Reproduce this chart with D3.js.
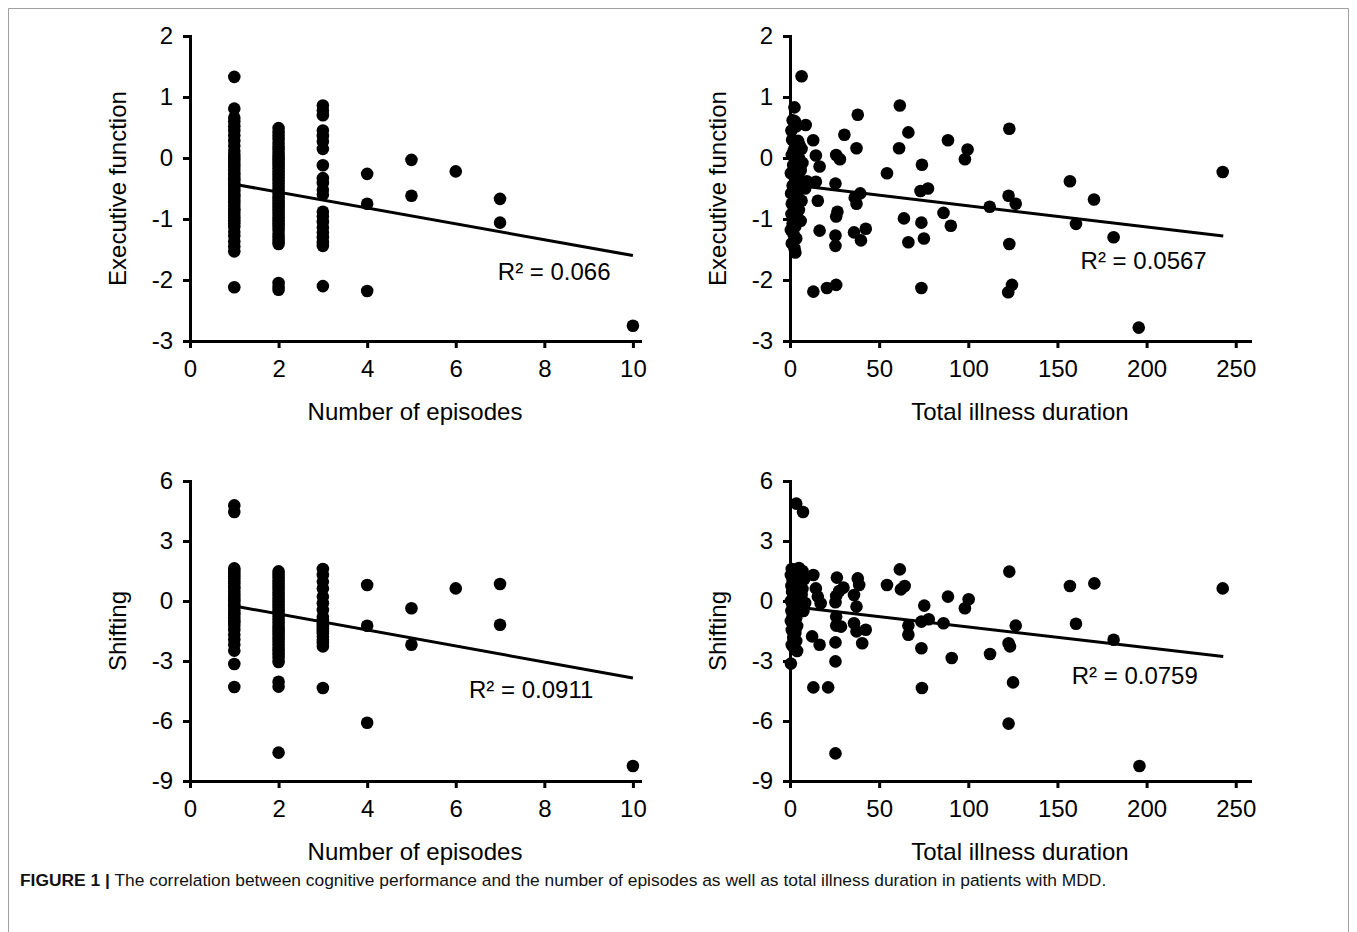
<!DOCTYPE html>
<html>
<head>
<meta charset="utf-8">
<script src="https://cdn.jsdelivr.net/npm/d3@7/dist/d3.min.js"></script>
<style>
  html, body { margin: 0; padding: 0; background: #fff; }
  svg { display: block; font-family: "Liberation Sans", Arial, sans-serif; }
</style>
</head>
<body>
<div id="figure"></div>
<script>
// tick values
const episodeTicks = [0, 2, 4, 6, 8, 10];
const durationTicks = [0, 50, 100, 150, 200, 250];
const execTicks = [-3, -2, -1, 0, 1, 2];
const shiftTicks = [-9, -6, -3, 0, 3, 6];

// executive function vs number of episodes  [episodes, score]
const execByEpisodes = [
  [1, 1.33], [1, 0.81], [1, 0.66], [1, 0.60], [1, 0.52], [1, 0.45], [1, 0.37], [1, 0.28],
  [1, 0.20], [1, 0.12], [1, 0.05], [1, 0.0], [1, -0.05], [1, -0.10], [1, -0.14], [1, -0.19],
  [1, -0.24], [1, -0.28], [1, -0.33], [1, -0.37], [1, -0.42], [1, -0.46], [1, -0.51], [1, -0.55],
  [1, -0.60], [1, -0.64], [1, -0.69], [1, -0.73], [1, -0.78], [1, -0.83], [1, -0.87], [1, -0.92],
  [1, -0.97], [1, -1.02], [1, -1.07], [1, -1.13], [1, -1.21], [1, -1.28], [1, -1.37], [1, -1.45],
  [1, -1.53], [1, -2.12],
  [2, 0.49], [2, 0.43], [2, 0.37], [2, 0.31], [2, 0.25], [2, 0.19], [2, 0.14], [2, 0.08],
  [2, 0.03], [2, -0.02], [2, -0.07], [2, -0.12], [2, -0.17], [2, -0.22], [2, -0.27], [2, -0.32],
  [2, -0.37], [2, -0.42], [2, -0.47], [2, -0.52], [2, -0.57], [2, -0.62], [2, -0.67], [2, -0.72],
  [2, -0.77], [2, -0.82], [2, -0.87], [2, -0.92], [2, -0.97], [2, -1.02], [2, -1.07], [2, -1.12],
  [2, -1.18], [2, -1.24], [2, -1.30], [2, -1.36], [2, -1.41], [2, -2.05], [2, -2.11], [2, -2.16],
  [3, 0.86], [3, 0.78], [3, 0.70], [3, 0.45], [3, 0.36], [3, 0.27], [3, 0.15], [3, -0.12],
  [3, -0.33], [3, -0.41], [3, -0.52], [3, -0.60], [3, -0.88], [3, -0.96], [3, -1.05], [3, -1.14],
  [3, -1.22], [3, -1.30], [3, -1.38], [3, -1.44], [3, -2.10],
  [4, -0.26], [4, -0.75], [4, -2.18],
  [5, -0.03], [5, -0.62],
  [6, -0.22],
  [7, -0.67], [7, -1.06],
  [10, -2.75]
];

// executive function vs total illness duration  [duration, score]
const execByDuration = [
  [0.8, 0.45], [1.5, 0.62], [2.5, 0.83], [2.8, 0.60], [3.5, 0.52], [1.2, 0.30], [4.5, 0.28],
  [5.5, 0.20], [2.0, 0.12], [6.5, 0.15], [1.0, 0.05], [3.0, -0.02], [5.0, 0.0], [7.0, -0.08],
  [1.8, -0.12], [4.0, -0.15], [6.0, -0.20], [0.5, -0.25], [2.5, -0.28], [3.8, -0.32], [5.5, -0.35],
  [7.5, -0.40], [1.5, -0.45], [3.0, -0.50], [0.6, -0.58], [2.2, -0.62], [4.5, -0.65], [6.5, -0.70],
  [1.0, -0.75], [3.2, -0.80], [5.0, -0.85], [0.8, -0.92], [2.5, -0.95], [4.0, -1.00], [6.0, -1.03],
  [1.5, -1.08], [3.0, -1.12], [0.5, -1.18], [2.0, -1.25], [3.5, -1.32], [1.0, -1.40], [2.5, -1.48],
  [3.0, -1.55], [9.5, -0.38], [8.5, -0.50], [6.5, 1.34], [8.8, 0.54], [13.0, 0.29],
  [30.5, 0.38], [38, 0.71], [37.3, 0.16], [61.6, 0.86], [66.4, 0.42], [61.2, 0.16], [88.6, 0.29],
  [99.6, 0.14], [98.1, -0.02], [123, 0.48], [14.5, 0.04], [16.6, -0.14], [25.9, 0.05], [28, -0.02],
  [54.4, -0.25], [74, -0.11], [157, -0.38], [242.7, -0.23], [14.5, -0.39], [15.6, -0.70],
  [25.5, -0.42], [36.3, -0.65], [37.3, -0.75], [39.4, -0.58], [73.2, -0.54], [77.4, -0.50],
  [112, -0.80], [122.6, -0.62], [126.6, -0.75], [170.5, -0.68], [160.4, -1.08], [181.5, -1.30],
  [63.9, -0.99], [73.7, -1.06], [86.1, -0.90], [90.2, -1.11], [75.1, -1.32], [66.4, -1.38],
  [123, -1.41], [16.6, -1.19], [26.6, -0.88], [25.9, -0.96], [25.5, -1.27], [25.5, -1.44],
  [35.9, -1.22], [39.8, -1.35], [42.5, -1.16], [13.1, -2.19], [20.7, -2.13], [25.9, -2.08],
  [73.7, -2.13], [122.4, -2.20], [124.5, -2.08], [195.6, -2.78]
];

// shifting vs number of episodes  [episodes, score]
const shiftByEpisodes = [
  [1, 4.78], [1, 4.45], [1, 1.63], [1, 1.50], [1, 1.38], [1, 1.24], [1, 1.12], [1, 0.98],
  [1, 0.86], [1, 0.72], [1, 0.60], [1, 0.47], [1, 0.33], [1, 0.21], [1, 0.08], [1, -0.05],
  [1, -0.18], [1, -0.30], [1, -0.44], [1, -0.57], [1, -0.70], [1, -0.83], [1, -0.97], [1, -1.10],
  [1, -1.24], [1, -1.45], [1, -1.68], [1, -1.92], [1, -2.18], [1, -2.48], [1, -3.15], [1, -4.30],
  [2, 1.48], [2, 1.33], [2, 1.18], [2, 1.02], [2, 0.88], [2, 0.73], [2, 0.58], [2, 0.42],
  [2, 0.28], [2, 0.12], [2, -0.02], [2, -0.17], [2, -0.32], [2, -0.47], [2, -0.62], [2, -0.78],
  [2, -0.93], [2, -1.08], [2, -1.24], [2, -1.40], [2, -1.55], [2, -1.70], [2, -1.86], [2, -2.02],
  [2, -2.18], [2, -2.34], [2, -2.50], [2, -2.66], [2, -2.83], [2, -3.05], [2, -4.04], [2, -4.28],
  [2, -7.58],
  [3, 1.60], [3, 1.30], [3, 0.97], [3, 0.63], [3, 0.22], [3, -0.11], [3, -0.45], [3, -0.78],
  [3, -0.95], [3, -1.11], [3, -1.25], [3, -1.36], [3, -1.50], [3, -1.61], [3, -1.78], [3, -1.94],
  [3, -2.10], [3, -2.27], [3, -4.35],
  [4, 0.80], [4, -1.24], [4, -6.09],
  [5, -0.36], [5, -2.19],
  [6, 0.63],
  [7, 0.85], [7, -1.19],
  [10, -8.25]
];

// shifting vs total illness duration  [duration, score]
const shiftByDuration = [
  [1.0, 1.60], [3.0, 1.55], [5.0, 1.65], [7.0, 1.50], [0.5, 1.30], [2.5, 1.25], [4.5, 1.30],
  [6.0, 1.20], [1.5, 1.00], [3.5, 0.95], [8.0, 1.10], [0.8, 0.75], [2.8, 0.70], [5.5, 0.80],
  [7.0, 0.60], [1.2, 0.45], [4.0, 0.40], [6.5, 0.30], [2.0, 0.15], [0.5, 0.0], [3.5, -0.05],
  [5.0, 0.05], [8.5, -0.10], [1.5, -0.25], [3.0, -0.30], [6.0, -0.35], [0.8, -0.50], [2.5, -0.60],
  [4.5, -0.55], [7.5, -0.50], [1.5, -0.80], [3.5, -0.85], [0.5, -1.00], [2.5, -1.15], [4.0, -1.25],
  [1.0, -1.45], [3.0, -1.60], [1.8, -1.85], [3.5, -2.00], [1.0, -2.20], [2.5, -2.40], [4.0, -2.50],
  [0.5, -3.13], [3.5, 4.87], [7.3, 4.45], [13.1, 1.30], [14.5, 0.63], [15.6, 0.22], [17.2, -0.11],
  [12.4, -1.77], [16.6, -2.19], [13.1, -4.32], [21.4, -4.32], [26.3, 1.17], [27.6, 0.50],
  [25.9, 0.25], [25.5, -0.06], [30, 0.67], [25.9, -0.78], [25.9, -1.23], [28.6, -1.28],
  [25.5, -2.07], [25.5, -3.02], [25.5, -7.62], [38, 1.13], [38.8, 0.80], [35.9, 0.30],
  [37.3, -0.28], [35.9, -1.11], [37.3, -1.52], [42.5, -1.44], [40.5, -2.11], [54.4, 0.80],
  [61.6, 1.58], [64.3, 0.75], [62.2, 0.58], [66.4, -1.23], [66.4, -1.69], [73.7, -2.36],
  [74, -4.35], [75.3, -0.23], [73.7, -1.03], [77.8, -0.91], [86.1, -1.11], [88.6, 0.22],
  [90.7, -2.85], [98.1, -0.36], [100.2, 0.09], [112.2, -2.65], [123, 1.47], [122.6, -2.11],
  [123.4, -2.27], [125.1, -4.07], [122.6, -6.13], [126.6, -1.23], [157, 0.75], [170.7, 0.88],
  [160.4, -1.14], [181.5, -1.94], [196, -8.25], [242.7, 0.63]
];

// fitted trend lines (end points) and R² values
const execEpisodesFit = [[1, -0.43], [10, -1.60]];
const execDurationFit = [[1, -0.44], [243, -1.28]];
const shiftEpisodesFit = [[1, -0.25], [10, -3.85]];
const shiftDurationFit = [[1, -0.28], [243, -2.77]];
const rSquared = ["0.066", "0.0567", "0.0911", "0.0759"];

const axisTitles = ["Executive function", "Shifting", "Number of episodes", "Total illness duration"];
const captionLead = "FIGURE 1 |";
const captionText = " The correlation between cognitive performance and the number of episodes as well as total illness duration in patients with MDD.";

const W = 1357, H = 932;
const INK = "#000";

const svg = d3.select("#figure").append("svg")
  .attr("width", W)
  .attr("height", H);

// figure frame
svg.append("path")
  .attr("d", `M8.5,${H} V8.5 H1348.5 V${H}`)
  .attr("fill", "none")
  .attr("stroke", "#a0a0a0")
  .attr("stroke-width", 1);

const panels = [
  { data: execByEpisodes, fit: execEpisodesFit, r2: rSquared[0],
    xDomain: [0, 10.16], xRange: [190, 640], xTicks: episodeTicks, xTitle: axisTitles[2],
    yDomain: [-3, 2], yRange: [341, 36], yTicks: execTicks, yTitle: axisTitles[0],
    r2At: [6.95, -1.87] },
  { data: execByDuration, fit: execDurationFit, r2: rSquared[1],
    xDomain: [0, 258], xRange: [790, 1250], xTicks: durationTicks, xTitle: axisTitles[3],
    yDomain: [-3, 2], yRange: [341, 36], yTicks: execTicks, yTitle: axisTitles[0],
    r2At: [163, -1.69] },
  { data: shiftByEpisodes, fit: shiftEpisodesFit, r2: rSquared[2],
    xDomain: [0, 10.16], xRange: [190, 640], xTicks: episodeTicks, xTitle: axisTitles[2],
    yDomain: [-9, 6], yRange: [781, 481], yTicks: shiftTicks, yTitle: axisTitles[1],
    r2At: [6.3, -4.45] },
  { data: shiftByDuration, fit: shiftDurationFit, r2: rSquared[3],
    xDomain: [0, 258], xRange: [790, 1250], xTicks: durationTicks, xTitle: axisTitles[3],
    yDomain: [-9, 6], yRange: [781, 481], yTicks: shiftTicks, yTitle: axisTitles[1],
    r2At: [158, -3.75] }
];

panels.forEach(drawPanel);

function drawPanel(p) {
  const x = d3.scaleLinear().domain(p.xDomain).range(p.xRange);
  const y = d3.scaleLinear().domain(p.yDomain).range(p.yRange);
  const g = svg.append("g");

  // points
  g.append("g")
    .selectAll("circle")
    .data(p.data)
    .join("circle")
    .attr("cx", d => x(d[0]))
    .attr("cy", d => y(d[1]))
    .attr("r", 6.3)
    .attr("fill", INK);

  // trend line
  g.append("path")
    .datum(p.fit)
    .attr("fill", "none")
    .attr("stroke", INK)
    .attr("stroke-width", 3)
    .attr("d", d3.line().x(d => x(d[0])).y(d => y(d[1])));

  // axes - plain hyphen minus, no decimals
  const fmt = d => String(d);
  const xAxis = g.append("g")
    .attr("transform", `translate(0,${p.yRange[0]})`)
    .call(d3.axisBottom(x).tickValues(p.xTicks).tickFormat(fmt)
      .tickSize(7).tickSizeOuter(0).tickPadding(12));

  const yAxis = g.append("g")
    .attr("transform", `translate(${p.xRange[0]},0)`)
    .call(d3.axisLeft(y).tickValues(p.yTicks).tickFormat(fmt)
      .tickSize(7).tickSizeOuter(0).tickPadding(10));

  [xAxis, yAxis].forEach(a => {
    a.attr("font-family", null).attr("font-size", null);
    a.select(".domain").attr("stroke", INK).attr("stroke-width", 3).attr("stroke-linecap", "square");
    a.selectAll(".tick line").attr("stroke", INK).attr("stroke-width", 3);
    a.selectAll(".tick text").attr("fill", INK).style("font-size", "24px");
  });

  // axis titles
  const xMid = (p.xRange[0] + p.xRange[1]) / 2;
  g.append("text")
    .attr("x", xMid)
    .attr("y", p.yRange[0] + 71)
    .attr("dy", "0.35em")
    .attr("text-anchor", "middle")
    .style("font-size", "24px")
    .text(p.xTitle);

  const yMid = (p.yRange[0] + p.yRange[1]) / 2;
  g.append("text")
    .attr("transform", `translate(${p.xRange[0] - 72},${yMid}) rotate(-90)`)
    .attr("dy", "0.35em")
    .attr("text-anchor", "middle")
    .style("font-size", "24px")
    .text(p.yTitle);

  // R² label
  g.append("text")
    .attr("x", x(p.r2At[0]))
    .attr("y", y(p.r2At[1]))
    .attr("dy", "0.35em")
    .style("font-size", "24px")
    .text(`R² = ${p.r2}`);
}

// caption
const cap = svg.append("text")
  .attr("x", 20)
  .attr("y", 886)
  .style("font-size", "17.4px")
  .attr("fill", "#111");
cap.append("tspan").attr("font-weight", "bold").text(captionLead);
cap.append("tspan").text(captionText);
</script>
</body>
</html>
